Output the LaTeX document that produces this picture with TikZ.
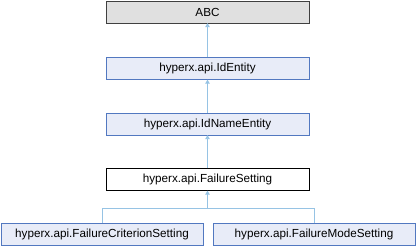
\documentclass[tikz,border=0pt]{standalone}
\usepackage{fontspec}
\setmainfont{Liberation Sans}
\usetikzlibrary{arrows.meta,positioning}
\definecolor{edgeblue}{RGB}{150,195,228}
\definecolor{boxblue}{RGB}{82,120,192}
\definecolor{fillblue}{RGB}{232,236,248}
\definecolor{fillgray}{RGB}{224,224,224}

\begin{document}
\begin{tikzpicture}[
      x=1pt, y=-1pt,
      font=\fontsize{11.7}{14}\selectfont,
      b/.style={draw=boxblue, fill=fillblue, align=center,
                minimum height=22pt, minimum width=203pt, inner sep=0pt},
      g/.style={draw=black!75, fill=fillgray, align=center,
                minimum height=22pt, minimum width=203pt, inner sep=0pt},
      w/.style={draw=black, fill=white, align=center,
                minimum height=22pt, minimum width=203pt, inner sep=0pt},
      a/.style={-{Triangle[length=4pt,width=4.5pt]}, draw=edgeblue, line width=0.9pt},
      l/.style={draw=edgeblue, line width=0.9pt},
    ]
    \useasboundingbox (0,0) rectangle (416,248);
    % base classes
    \node[g] (abc) at (207.5, 12)   {ABC};
    \node[b] (ide) at (207.5, 68.5) {hyperx.api.IdEntity};
    \node[b] (idn) at (207.5, 124)  {hyperx.api.IdNameEntity};
    % this class
    \node[w] (fs)  at (207.5, 179.5) {hyperx.api.FailureSetting};
    % derived classes
    \node[b, minimum width=202pt] (fcs) at (102, 234.5) {hyperx.api.FailureCriterionSetting};
    \node[b, minimum width=202pt] (fms) at (314, 234.5) {hyperx.api.FailureModeSetting};
    \coordinate (j) at (207.5, 208);

    \draw[a] (ide) -- (abc);
    \draw[a] (idn) -- (ide);
    \draw[a] (fs)  -- (idn);
    \draw[l] (fcs.north) |- (j);
    \draw[l] (fms.north) |- (j);
    \draw[a] (j) -- (fs.south);
  \end{tikzpicture}
\end{document}
